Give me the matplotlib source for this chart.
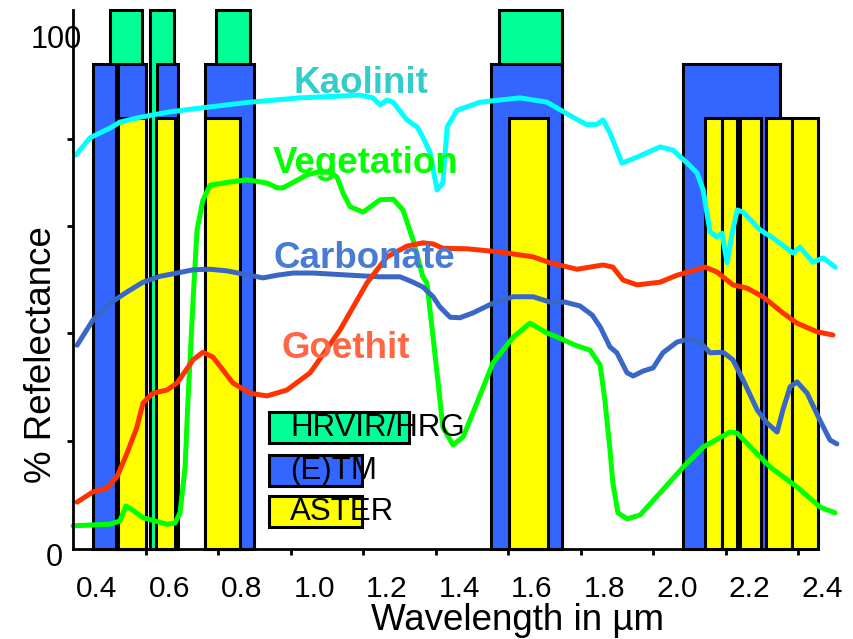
import matplotlib
matplotlib.use('Agg')
import matplotlib.pyplot as plt
from matplotlib.patches import Rectangle

plt.rcParams['font.family'] = ['Liberation Sans', 'DejaVu Sans']
plt.rcParams['lines.solid_joinstyle'] = 'round'
plt.rcParams['lines.solid_capstyle'] = 'round'

# Spektren: Wellenlaenge (um) und Reflexion (%)
kaol_wl = [0.342, 0.381, 0.436, 0.463, 0.519, 0.601, 0.684, 0.822, 0.960, 1.126, 1.161, 1.181,
           1.200, 1.217, 1.255, 1.283, 1.299, 1.319, 1.338, 1.354, 1.366, 1.393, 1.457, 1.567,
           1.641, 1.713, 1.752, 1.779, 1.796, 1.815, 1.848, 1.890, 1.953, 1.989, 2.028, 2.055,
           2.072, 2.091, 2.110, 2.124, 2.138, 2.152, 2.166, 2.182, 2.229, 2.265, 2.320, 2.339,
           2.375, 2.403, 2.436]
kaol_r = [73.1, 76.3, 78.1, 79.2, 80.1, 81.1, 81.8, 82.9, 83.7, 84.2, 83.7, 82.4,
          83.3, 82.9, 79.6, 78.3, 76.4, 73.5, 66.6, 67.9, 78.3, 81.4, 82.9, 83.7,
          82.9, 80.1, 78.7, 78.8, 79.6, 77.2, 71.6, 72.7, 74.6, 74.0, 71.6, 69.8,
          66.6, 58.8, 57.9, 58.6, 53.1, 58.6, 62.9, 62.5, 59.2, 57.7, 54.9, 56.0,
          53.2, 54.0, 52.3]

veg_wl = [0.334, 0.436, 0.463, 0.480, 0.499, 0.527, 0.593, 0.615, 0.629, 0.643, 0.651, 0.665,
          0.676, 0.692, 0.712, 0.767, 0.814, 0.869, 0.897, 0.913, 0.979, 1.007, 1.043, 1.062,
          1.079, 1.098, 1.134, 1.181, 1.217, 1.244, 1.272, 1.299, 1.310, 1.327, 1.341, 1.354,
          1.382, 1.410, 1.448, 1.492, 1.548, 1.594, 1.641, 1.677, 1.719, 1.760, 1.788, 1.801,
          1.815, 1.823, 1.837, 1.862, 1.898, 1.953, 2.017, 2.072, 2.146, 2.166, 2.210, 2.257,
          2.331, 2.394, 2.436]
veg_r = [4.3, 4.6, 5.2, 8.0, 7.2, 5.8, 4.6, 4.8, 6.7, 15.2, 27.6, 46.2,
         59.2, 64.7, 67.5, 68.1, 68.5, 67.9, 67.0, 67.0, 69.4, 69.9, 69.9, 69.0,
         66.0, 63.5, 62.5, 64.8, 64.9, 62.9, 57.3, 50.5, 49.4, 39.3, 30.8, 22.6,
         19.3, 20.8, 27.1, 34.5, 39.3, 41.9, 40.1, 39.1, 37.8, 36.9, 34.1, 27.6,
         18.4, 12.2, 6.7, 5.6, 6.3, 10.4, 15.2, 18.9, 21.7, 21.5, 18.4, 15.2,
         11.5, 7.8, 6.7]

carb_wl = [0.345, 0.389, 0.436, 0.483, 0.527, 0.574, 0.621, 0.665, 0.712, 0.759, 0.803, 0.858,
           0.897, 0.941, 0.996, 1.098, 1.181, 1.236, 1.272, 1.299, 1.327, 1.346, 1.374, 1.401,
           1.437, 1.492, 1.548, 1.603, 1.650, 1.691, 1.732, 1.766, 1.788, 1.815, 1.834, 1.862,
           1.879, 1.906, 1.934, 1.961, 2.000, 2.035, 2.063, 2.091, 2.127, 2.154, 2.182, 2.221,
           2.248, 2.276, 2.292, 2.312, 2.331, 2.359, 2.394, 2.422, 2.441]
carb_r = [37.8, 42.5, 45.6, 47.7, 49.5, 50.6, 51.2, 51.8, 51.9, 51.6, 51.0, 50.3,
          50.8, 51.2, 51.2, 50.8, 50.5, 50.5, 49.5, 48.6, 46.8, 44.9, 43.0, 42.9,
          43.8, 45.6, 46.8, 46.8, 45.8, 45.8, 45.1, 43.4, 41.2, 37.5, 36.4, 32.7,
          32.1, 33.0, 33.6, 36.4, 38.4, 39.0, 38.4, 36.4, 36.5, 35.1, 31.4, 25.8,
          23.4, 21.7, 25.8, 30.1, 31.0, 28.9, 23.9, 20.2, 19.5]

goe_wl = [0.345, 0.389, 0.428, 0.455, 0.483, 0.510, 0.527, 0.554, 0.593, 0.621, 0.665, 0.692,
          0.720, 0.775, 0.822, 0.869, 0.924, 0.988, 1.007, 1.070, 1.145, 1.200, 1.255, 1.299,
          1.327, 1.354, 1.421, 1.512, 1.603, 1.650, 1.724, 1.796, 1.823, 1.851, 1.890, 1.953,
          2.000, 2.077, 2.110, 2.154, 2.193, 2.237, 2.292, 2.331, 2.386, 2.430]
goe_r = [8.7, 10.6, 11.3, 13.4, 17.8, 22.6, 27.1, 28.9, 29.5, 30.8, 35.1, 36.5,
         35.6, 30.8, 28.9, 28.4, 29.5, 32.7, 34.5, 40.6, 49.4, 54.2, 56.2, 56.8,
         56.6, 55.8, 55.7, 55.1, 54.2, 53.1, 51.9, 52.7, 52.3, 49.9, 49.0, 49.5,
         50.8, 52.3, 51.4, 49.0, 48.4, 46.8, 43.8, 41.9, 40.3, 39.7]

# Kanaele der Sensoren (von, bis) in um
hrv_bands = [(0.436, 0.524), (0.546, 0.612), (0.728, 0.822), (1.509, 1.683)]
etm_bands = [(0.388, 0.452), (0.458, 0.534), (0.566, 0.623), (0.698, 0.833),
             (1.487, 1.683), (2.017, 2.284)]
aster_bands = [(0.458, 0.534), (0.564, 0.615), (0.699, 0.794), (1.537, 1.644),
               (2.077, 2.123), (2.123, 2.166), (2.174, 2.232), (2.246, 2.317),
               (2.317, 2.389)]
hrv_top = 100
etm_top = 90
aster_top = 80

xlabels = ['0.4', '0.6', '0.8', '1.0', '1.2', '1.4', '1.6', '1.8', '2.0', '2.2', '2.4']
xlabel_pos = [0.4, 0.6, 0.8, 1.0, 1.2, 1.4, 1.6, 1.8, 2.0, 2.2, 2.4]
xtick_pos = [0.535, 0.735, 0.935, 1.135, 1.335, 1.535, 1.735, 1.935, 2.135, 2.335]

c_hrv = '#00FF96'
c_etm = '#3366FF'
c_aster = '#FFFF00'

fig = plt.figure(figsize=(8.54, 6.39), dpi=100)
ax = fig.add_axes([73/854, 1 - 549/639, 765/854, 539/639])

# Kanaele zeichnen
for bands, top, col in [(hrv_bands, hrv_top, c_hrv), (etm_bands, etm_top, c_etm),
                        (aster_bands, aster_top, c_aster)]:
    for a, b in bands:
        ax.add_patch(Rectangle((a, 0), b - a, top, facecolor=col, edgecolor='black',
                               lw=2.2, zorder=1, clip_on=False))

# Spektren
ax.plot(kaol_wl, kaol_r, color='#00FFFF', lw=3.6, zorder=3, clip_on=False)
ax.plot(veg_wl, veg_r, color='#00FF00', lw=3.6, zorder=3, clip_on=False)
ax.plot(carb_wl, carb_r, color='#3A66C8', lw=3.6, zorder=3, clip_on=False)
ax.plot(goe_wl, goe_r, color='#FF3300', lw=3.6, zorder=3, clip_on=False)

ax.text(0.941, 84.6, 'Kaolinit', color='#33CCCC', fontsize=26.5, fontweight='bold', zorder=4)
ax.text(0.886, 69.8, 'Vegetation', color='#00FF00', fontsize=26.5, fontweight='bold', zorder=4)
ax.text(0.886, 52.1, 'Carbonate', color='#4A7BD4', fontsize=26.5, fontweight='bold', zorder=4)
ax.text(0.910, 35.4, 'Goethit', color='#FF6644', fontsize=26.5, fontweight='bold', zorder=4)

# Legende
leg = [('HRVIR/HRG', c_hrv, 0.1967, 0.183), ('(E)TM', c_etm, 0.1169, 0.1216),
       ('ASTER', c_aster, 0.0408, 0.1216)]
for name, col, y0, w in leg:
    ax.add_patch(Rectangle((0.2562, y0), w, 0.0575, transform=ax.transAxes,
                           facecolor=col, edgecolor='black', lw=2.2, zorder=5))
    ax.text(0.2837, y0 + 0.0285, name, transform=ax.transAxes, fontsize=22.5,
            va='center', ha='left', zorder=6)

ax.set_xlim(0.3338, 2.444)
ax.set_ylim(0, 100)
for s in ['top', 'right']:
    ax.spines[s].set_visible(False)
for s in ['left', 'bottom']:
    ax.spines[s].set_linewidth(2)
    ax.spines[s].set_zorder(7)
ax.spines['bottom'].set_bounds(0.3338, 2.389)

ax.set_xticks(xlabel_pos)
ax.set_xticklabels(xlabels)
ax.set_xticks(xtick_pos, minor=True)
ax.tick_params(axis='x', which='major', length=0, pad=19, labelsize=21.5)
ax.tick_params(axis='x', which='minor', length=4, width=2, direction='out')
ax.set_yticks([20, 40, 60, 76])
ax.set_yticklabels([])
ax.tick_params(axis='y', length=4, width=2, direction='out')
ax.text(0.3062, -1.7, '0', fontsize=22, ha='right', va='center')
ax.text(0.3586, 94.4, '100', fontsize=22, ha='right', va='center')

fig.text(518/854, 1 - 630/639, 'Wavelength in \u00b5m', fontsize=26.5, ha='center', va='baseline')
fig.text(42/854, 1 - 355/639, '% Refelectance', fontsize=26.5, rotation=90, ha='center', va='center')

fig.savefig('out.png', dpi=100)
